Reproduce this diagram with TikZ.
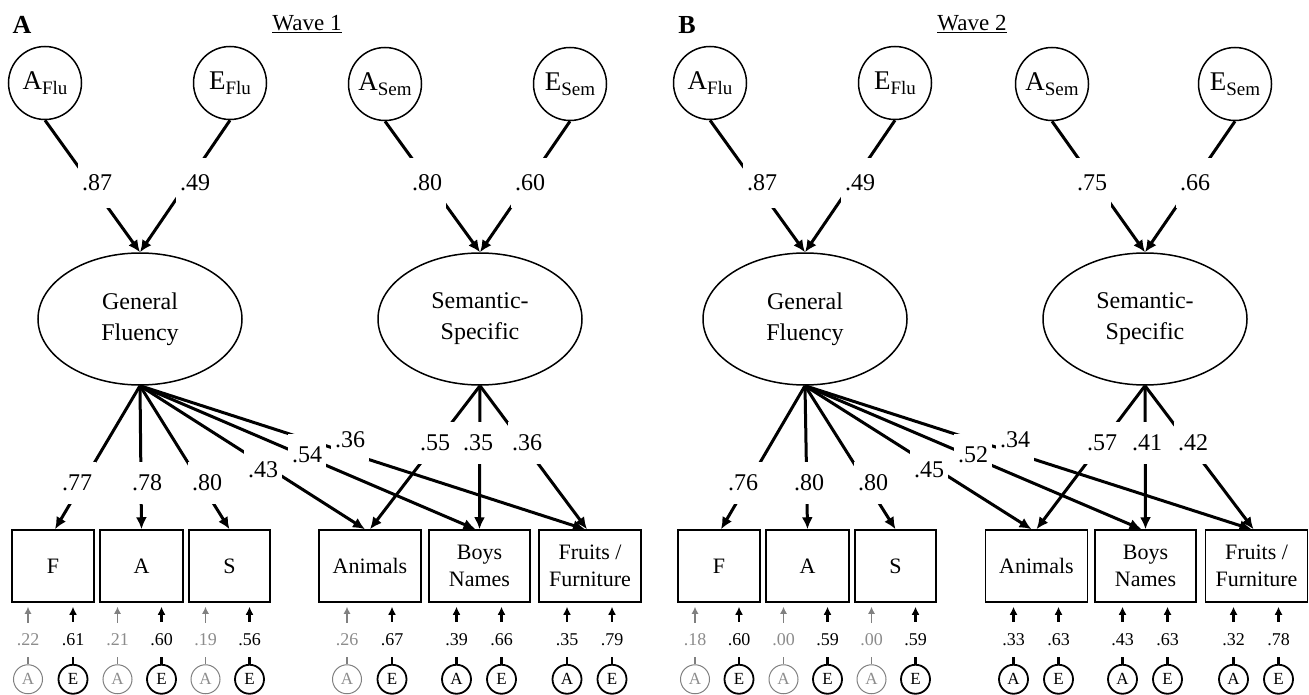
\documentclass[tikz,border=0pt]{standalone}
\usepackage{fontspec}
\setmainfont{Liberation Serif}
\usetikzlibrary{arrows.meta,shapes.geometric}
\definecolor{ggray}{HTML}{808080}
\definecolor{gtext}{HTML}{8C8C8C}
\newcommand\lv[2]{{\fontsize{27}{27}\selectfont #1}\raisebox{-5pt}{\fontsize{19}{19}\selectfont #2}}
% #1 box node, #2 dx of A, #3 dx of E, #4 A value, #5 E value, #6 A style suffix (g or k)
\newcommand\acepair[6]{%
  \node[smallc#6] (#1-a) at ([xshift=#2pt,yshift=-76.5pt]#1.south) {A};
  \node[smallck] (#1-e) at ([xshift=#3pt,yshift=-76.5pt]#1.south) {E};
  \draw[smallarr#6] (#1-a.north) -- node[pos=0.40,smallval#6] {#4} (#1-a.north |- #1.south);
  \draw[smallarrk] (#1-e.north) -- node[pos=0.40,smallvalk] {#5} (#1-e.north |- #1.south);
}
\tikzset{
  lat/.style={circle,draw,line width=1.5pt,minimum size=73pt,inner sep=0pt},
  fac/.style={ellipse,draw,line width=1.5pt,minimum width=204pt,minimum height=132pt,align=center,font=\fontsize{24}{31}\selectfont},
  obs/.style={rectangle,draw,line width=1.5pt,minimum height=72pt,inner sep=0pt,align=center,font=\fontsize{22}{27}\selectfont},
  pth/.style={line width=3pt,-{Latex[length=12pt,width=11pt]}},
  ld/.style={fill=white,inner xsep=4pt,inner ysep=13pt,font=\fontsize{24}{24}\selectfont},
  ldtop/.style={ld,inner ysep=17pt},
  smallck/.style={circle,draw,line width=1.8pt,minimum size=29pt,inner sep=0pt,font=\fontsize{17}{17}\selectfont},
  smallcg/.style={circle,draw=ggray,text=gtext,line width=1pt,minimum size=29pt,inner sep=0pt,font=\fontsize{17}{17}\selectfont},
  smallarrk/.style={line width=2.6pt,shorten >=4pt,-{Latex[length=8pt,width=8pt]}},
  smallarrg/.style={ggray,line width=1.3pt,shorten >=4pt,-{Latex[length=7pt,width=7pt]}},
  smallvalk/.style={fill=white,inner xsep=2pt,inner ysep=11pt,font=\fontsize{18}{18}\selectfont},
  smallvalg/.style={smallvalk,text=gtext},
  plet/.style={font=\fontsize{26}{26}\selectfont\bfseries},
  wave/.style={font=\fontsize{23}{23}\selectfont},
}
\begin{document}
\begin{tikzpicture}[x=1pt,y=-1pt]
\useasboundingbox (0,0) rectangle (1309,695);
% ================= Panel A =================
\node[plet] (aLetter) at (22,25) {A};
\node[wave] (aWave) at (307,24) {\underline{Wave 1}};
\node[lat] (aAF) at (45,83) {\lv{A}{Flu}};
\node[lat] (aEF) at (230,83) {\lv{E}{Flu}};
\node[lat] (aAS) at (385,84) {\lv{A}{Sem}};
\node[lat] (aES) at (570,84) {\lv{E}{Sem}};
\node[fac] (aGF) at (140,319) {General\\Fluency};
\node[fac] (aSS) at (480,319) {Semantic-\\Specific};
\node[obs,minimum width=82pt] (aF) at (53,566) {F};
\node[obs,minimum width=83pt] (aA) at (141.5,566) {A};
\node[obs,minimum width=81pt] (aS) at (229.5,566) {S};
\node[obs,minimum width=102pt] (aAn) at (370,566) {Animals};
\node[obs,minimum width=101pt] (aBN) at (479.5,566) {Boys\\Names};
\node[obs,minimum width=102pt] (aFF) at (590,566) {Fruits /\\Furniture};
\draw[pth] (aAF.south) -- (aGF.north);
\draw[pth] (aEF.south) -- (aGF.north);
\draw[pth] (aAS.south) -- (aSS.north);
\draw[pth] (aES.south) -- (aSS.north);
\draw[pth] (aGF.south) -- ([xshift=2pt]aF.north);
\draw[pth] (aGF.south) -- (aA.north);
\draw[pth] (aGF.south) -- (aS.north);
\draw[pth] (aGF.south) -- ([xshift=-5pt]aAn.north);
\draw[pth] (aGF.south) -- ([xshift=-4pt]aBN.north);
\draw[pth] (aGF.south) -- ([xshift=-5pt]aFF.north);
\draw[pth] (aSS.south) -- (aAn.north);
\draw[pth] (aSS.south) -- (aBN.north);
\draw[pth] (aSS.south) -- ([xshift=-3pt]aFF.north);
\node[ldtop] (aL1) at (97,183) {.87};
\node[ldtop] (aL2) at (195,183) {.49};
\node[ldtop] (aL3) at (427,183) {.80};
\node[ldtop] (aL4) at (530,183) {.60};
\node[ld] (aL5) at (77,483) {.77};
\node[ld] (aL6) at (147,483) {.78};
\node[ld] (aL7) at (207,483) {.80};
\node[ld] (aL8) at (263,470) {.43};
\node[ld] (aL9) at (307,455) {.54};
\node[ld] (aL10) at (350,440) {.36};
\node[ld] (aL11) at (435,443) {.55};
\node[ld] (aL12) at (478,443) {.35};
\node[ld] (aL13) at (527,443) {.36};
\acepair{aF}{-25}{20}{.22}{.61}{g}
\acepair{aA}{-24}{20}{.21}{.60}{g}
\acepair{aS}{-24}{20}{.19}{.56}{g}
\acepair{aAn}{-23}{22}{.26}{.67}{g}
\acepair{aBN}{-23}{22}{.39}{.66}{k}
\acepair{aFF}{-23}{22}{.35}{.79}{k}
% ================= Panel B =================
\node[plet] (bLetter) at (687,25) {B};
\node[wave] (bWave) at (972,24) {\underline{Wave 2}};
\node[lat] (bAF) at (710,83) {\lv{A}{Flu}};
\node[lat] (bEF) at (895,83) {\lv{E}{Flu}};
\node[lat] (bAS) at (1052,84) {\lv{A}{Sem}};
\node[lat] (bES) at (1235,84) {\lv{E}{Sem}};
\node[fac] (bGF) at (805,319) {General\\Fluency};
\node[fac] (bSS) at (1145,319) {Semantic-\\Specific};
\node[obs,minimum width=82pt] (bF) at (719,566) {F};
\node[obs,minimum width=83pt] (bA) at (807.5,566) {A};
\node[obs,minimum width=81pt] (bS) at (895.5,566) {S};
\node[obs,minimum width=102pt] (bAn) at (1036.5,566) {Animals};
\node[obs,minimum width=101pt] (bBN) at (1145.5,566) {Boys\\Names};
\node[obs,minimum width=102pt] (bFF) at (1256.5,566) {Fruits /\\Furniture};
\draw[pth] (bAF.south) -- (bGF.north);
\draw[pth] (bEF.south) -- (bGF.north);
\draw[pth] (bAS.south) -- (bSS.north);
\draw[pth] (bES.south) -- (bSS.north);
\draw[pth] (bGF.south) -- ([xshift=2pt]bF.north);
\draw[pth] (bGF.south) -- (bA.north);
\draw[pth] (bGF.south) -- (bS.north);
\draw[pth] (bGF.south) -- ([xshift=-5pt]bAn.north);
\draw[pth] (bGF.south) -- ([xshift=-4pt]bBN.north);
\draw[pth] (bGF.south) -- ([xshift=-5pt]bFF.north);
\draw[pth] (bSS.south) -- (bAn.north);
\draw[pth] (bSS.south) -- (bBN.north);
\draw[pth] (bSS.south) -- ([xshift=-3pt]bFF.north);
\node[ldtop] (bL1) at (762,183) {.87};
\node[ldtop] (bL2) at (860,183) {.49};
\node[ldtop] (bL3) at (1092,183) {.75};
\node[ldtop] (bL4) at (1195,183) {.66};
\node[ld] (bL5) at (743,483) {.76};
\node[ld] (bL6) at (809,483) {.80};
\node[ld] (bL7) at (873,483) {.80};
\node[ld] (bL8) at (929,470) {.45};
\node[ld] (bL9) at (973,455) {.52};
\node[ld] (bL10) at (1015,440) {.34};
\node[ld] (bL11) at (1102,443) {.57};
\node[ld] (bL12) at (1147,443) {.41};
\node[ld] (bL13) at (1193,443) {.42};
\acepair{bF}{-24}{20}{.18}{.60}{g}
\acepair{bA}{-24}{20}{.00}{.59}{g}
\acepair{bS}{-24}{20}{.00}{.59}{g}
\acepair{bAn}{-23}{22}{.33}{.63}{k}
\acepair{bBN}{-23}{22}{.43}{.63}{k}
\acepair{bFF}{-23}{22}{.32}{.78}{k}
\end{tikzpicture}
\end{document}
